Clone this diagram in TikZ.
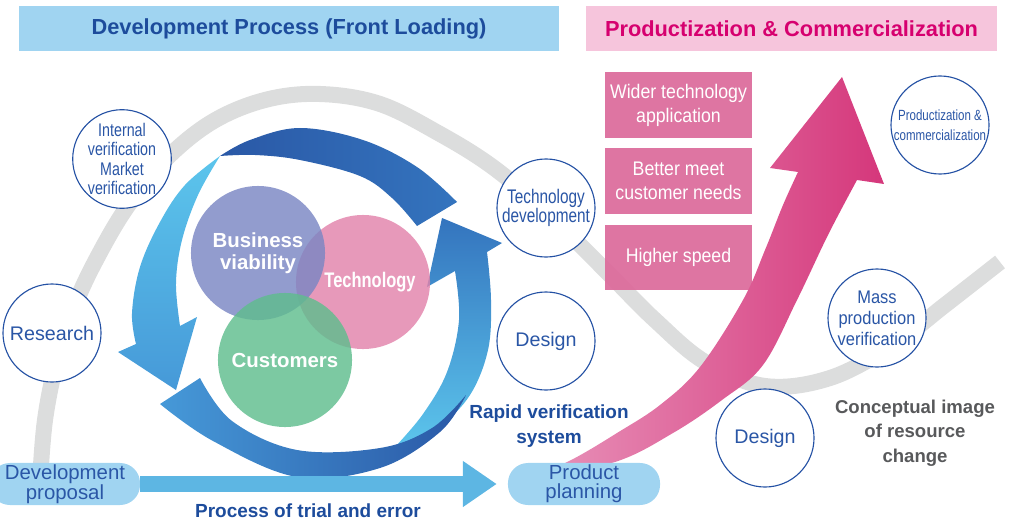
\documentclass[tikz,border=0pt]{standalone}
\usepackage{fontspec}
\setmainfont{Liberation Sans}
\newfontfamily\narrowfont[FakeStretch=0.78]{Liberation Sans}
\newfontfamily\slimfont[FakeStretch=0.9]{Liberation Sans}
\usetikzlibrary{arrows.meta}

\definecolor{headblue}{HTML}{A0D4F1}
\definecolor{inkblue}{HTML}{1D4C9C}
\definecolor{headpink}{HTML}{F6C5DC}
\definecolor{inkpink}{HTML}{D6006F}
\definecolor{bandgray}{HTML}{DCDDDD}
\definecolor{ringblue}{HTML}{2451A4}
\definecolor{textblue}{HTML}{2A56A6}
\definecolor{boxpink}{HTML}{DC6A9B}
\definecolor{barblue}{HTML}{5DB6E3}
\definecolor{darkcyc}{HTML}{2A58A6}
\definecolor{midcyc}{HTML}{3474BE}
\definecolor{lightcyc}{HTML}{5CC5EC}
\definecolor{basecyc}{HTML}{4699D8}
\definecolor{bizviolet}{HTML}{7A86C3}
\definecolor{techpink}{HTML}{E283AB}
\definecolor{custgreen}{HTML}{5FBD8E}
\definecolor{pinklight}{HTML}{E893BA}
\definecolor{pinkdeep}{HTML}{D5377B}
\definecolor{notegray}{HTML}{58595B}

\tikzset{
  headbar/.style={minimum height=1.125cm, inner sep=0pt,
    font=\fontsize{15.5}{18}\selectfont\bfseries},
  bubble/.style={circle, draw=ringblue, line width=0.8pt, fill=white,
    minimum size=2.45cm, inner sep=0pt, align=center, text=textblue},
  pill/.style={rounded corners=0.5cm, fill=headblue, minimum width=3.75cm,
    minimum height=1.05cm, inner sep=0pt, align=center, text=textblue,
    font=\fontsize{14.5}{13.5}\selectfont},
  pinkbox/.style={fill=boxpink, fill opacity=0.93, text opacity=1, text=white,
    minimum width=3.675cm, minimum height=1.625cm, inner sep=0pt, align=center,
    font=\slimfont\fontsize{14}{17}\selectfont},
  venn/.style={circle, minimum size=3.35cm, inner sep=0pt, fill opacity=0.82,
    text opacity=1, text=white, align=center},
  caption/.style={align=center, font=\fontsize{13.5}{17.8}\selectfont\bfseries}
}

\begin{document}
\begin{tikzpicture}[x=0.025cm, y=-0.025cm]
  \useasboundingbox (0,0) rectangle (1017,525);

  % Resource change curve
  \draw[bandgray, line width=11.4pt] plot[smooth, tension=0.6] coordinates {
    (40,482) (45,420) (57,360) (75,305) (97,258) (127,207) (165,160) (212,122)
    (265,100) (320,94) (380,104) (440,134) (490,165) (535,202) (575,240)
    (612,277) (655,320) (705,362) (765,386) (830,378) (893,345) (945,305)
    (1000,262)};

  % Headings
  \node[headbar, fill=headblue, text=inkblue, minimum width=13.5cm]
    (devhead) at (289,28.5) {Development Process (Front Loading)};
  \node[headbar, fill=headpink, text=inkpink, minimum width=10.275cm]
    (prodhead) at (791.5,28.5) {Productization \& Commercialization};

  % Cycle: right and left arrows first, then the bands over them
  \shade[bottom color=lightcyc, top color=midcyc]
    plot[smooth, tension=0.6] coordinates {(395,447) (440,425) (470,395) (488,350) (491,300) (487,252)}
    -- (502,243) -- (442,218) -- (427,287) -- (455,271)
    -- plot[smooth, tension=0.6] coordinates {(455,271) (459,320) (447,372) (423,414) (395,447)} -- cycle;
  \shade[top color=lightcyc, bottom color=basecyc]
    plot[smooth, tension=0.6] coordinates {(220,156) (185,185) (160,222) (140,267) (132,313) (136,344)}
    -- (118,352) -- (176,390) -- (197,317) -- (180,326)
    -- plot[smooth, tension=0.6] coordinates {(180,326) (176,283) (182,240) (198,195) (220,156)} -- cycle;
  \shade[left color=darkcyc, right color=midcyc]
    plot[smooth, tension=0.6] coordinates {(220,156) (250,140) (300,128) (363,140) (417,167) (457,202)}
    -- plot[smooth, tension=0.6] coordinates {(417,226) (392,198) (360,176) (300,160) (255,155) (220,156)} -- cycle;
  \shade[left color=basecyc, right color=darkcyc]
    plot[smooth, tension=0.6] coordinates {(160,404) (213,441) (297,477) (380,468) (440,432) (466,395)}
    -- plot[smooth, tension=0.6] coordinates {(466,395) (432,428) (380,448) (297,450) (232,421) (200,378)} -- cycle;

  % Three views
  \node[venn, fill=techpink, font=\narrowfont\fontsize{15}{17}\selectfont\bfseries]
    (tech) at (363,282) {\hspace*{10pt}Technology};
  \node[venn, fill=bizviolet, font=\fontsize{14.5}{15.5}\selectfont\bfseries]
    (biz) at (258,253) {Business\\viability};
  \node[venn, fill=custgreen, font=\fontsize{14.5}{16}\selectfont\bfseries]
    (cust) at (285,360) {Customers};

  % Steps
  \node[bubble, font=\narrowfont\fontsize{13}{13.8}\selectfont]
    (intver) at (122,159) {Internal\\verification\\Market\\verification};
  \node[bubble, font=\fontsize{14}{16}\selectfont] (research) at (52,333) {Research};
  \node[bubble, font=\narrowfont\fontsize{14}{14}\selectfont]
    (techdev) at (546,208) {Technology\\development};
  \node[bubble, font=\fontsize{14}{16}\selectfont] (designA) at (546,341) {Design};
  \node[bubble, font=\narrowfont\fontsize{10.5}{14}\selectfont]
    (prodcom) at (940,125) {Productization \&\\commercialization};
  \node[bubble, font=\slimfont\fontsize{13}{15}\selectfont]
    (massver) at (877,318) {Mass\\production\\verification};
  \node[bubble, font=\fontsize{14}{16}\selectfont] (designB) at (765,438) {Design};

  % Gains
  \foreach \name/\y/\txt in {wider/105/{Wider technology\\application},
      needs/181/{Better meet\\customer needs}, speed/257.5/{Higher speed}} {
    \node[pinkbox] (\name) at (678.5,\y) {\txt};
  }

  % Rising arrow
  \shade[left color=pinklight, right color=pinkdeep]
    plot[smooth, tension=0.6] coordinates {(535,477) (615,462) (673,433) (722,400) (763,365) (797,300) (828,235) (857,180)}
    -- (884,184) -- (842,77) -- (770,168)
    -- plot[smooth, tension=0.6] coordinates {(798,172) (783,205) (765,250) (743,300) (700,367) (660,405) (617,433) (575,458) (535,477)} -- cycle;

  % Trial and error
  \node[pill] (devprop) at (65,484) {Development\\proposal};
  \node[pill, minimum width=3.8cm] (prodplan) at (584,484) {Product\\planning};
  \draw[barblue, line width=11.4pt, -{Triangle[length=24pt, width=31pt]}, shorten >=7.8pt]
    (devprop.east) -- (prodplan.west);

  \node[caption, text=inkblue] (trial) at (308,511) {Process of trial and error};
  \node[caption, text=inkblue] (rapid) at (549,426) {Rapid verification\\system};
  \node[caption, text=notegray, font=\fontsize{13.2}{17.4}\selectfont\bfseries]
    (concept) at (915,433) {Conceptual image\\of resource\\change};
\end{tikzpicture}
\end{document}
